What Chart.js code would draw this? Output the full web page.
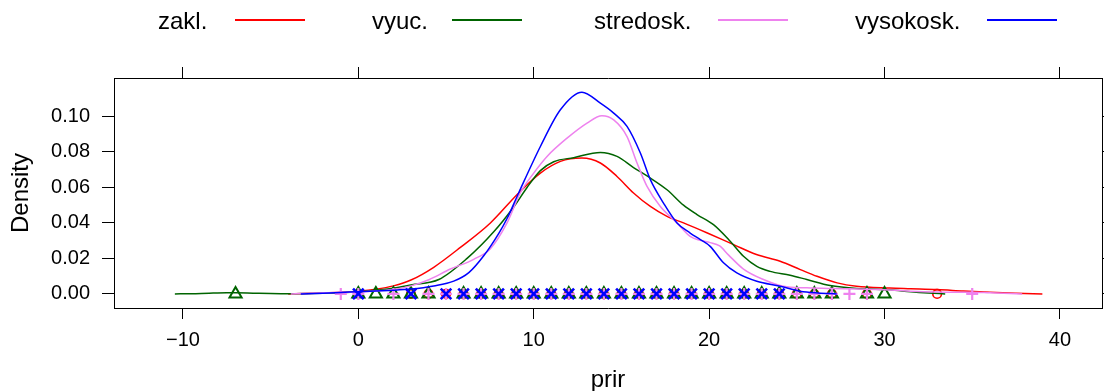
<!DOCTYPE html>
<html>
<head>
<meta charset="utf-8">
<script src="https://cdn.jsdelivr.net/npm/chart.js@4.4.1/dist/chart.umd.min.js"></script>
<style>
  html, body { margin: 0; padding: 0; background: #fff; overflow: hidden; }
  #wrap { position: relative; width: 1104px; height: 391px; overflow: hidden; }
  #chart { position: absolute; left: 0; top: 0; }
  .key { position: absolute; top: 7px; font: 24px "Liberation Sans", Arial, sans-serif; color: #000; line-height: 28px; white-space: nowrap; }
  .swatch { position: absolute; top: 19px; width: 70px; height: 2px; }
</style>
</head>
<body>
<div id="wrap">
  <canvas id="chart" width="1116" height="395"></canvas>
  <div class="key" style="left:158px">zakl.</div>
  <div class="swatch" style="left:235px;background:#ff0000"></div>
  <div class="key" style="left:372px">vyuc.</div>
  <div class="swatch" style="left:452px;background:#006400"></div>
  <div class="key" style="left:594px">stredosk.</div>
  <div class="swatch" style="left:718px;background:#ee82ee"></div>
  <div class="key" style="left:855px">vysokosk.</div>
  <div class="swatch" style="left:987px;background:#0000ff"></div>
</div>
<script>
"use strict";

// tick labels
const xTicks = [-10, 0, 10, 20, 30, 40];
const yTicks = [0, 0.02, 0.04, 0.06, 0.08, 0.10];

// density curves
const zaklX = [-4, -3, -2, -1, 0, 1, 2, 3, 4.3, 5.82, 7.53, 9.14, 10.38, 11.52, 12.75, 13.8, 14.75, 15.69, 16.65, 17.6, 18.54, 19.9, 21.4, 22.7, 24.05, 25.2, 26.15, 27.3, 28.4, 30.3, 31.5, 33, 34.5, 36, 37.5, 39];
const zaklY = [0, 0.0002, 0.0005, 0.0009, 0.0015, 0.0026, 0.0045, 0.0078, 0.0150, 0.0262, 0.0400, 0.0569, 0.0681, 0.0747, 0.0766, 0.0738, 0.0662, 0.0569, 0.0493, 0.0437, 0.0400, 0.0343, 0.0278, 0.0222, 0.0184, 0.0137, 0.0099, 0.0062, 0.0043, 0.0033, 0.0029, 0.0024, 0.0016, 0.0009, 0.0004, 0];

const vyucX = [-10.46, -9.5, -8.5, -7.5, -7, -6, -5, -4, -3, -2, -1, 0, 1, 2, 3, 4.59, 6.2, 7.72, 8.86, 9.62, 10.38, 11.14, 12.28, 13.8, 14.75, 15.69, 16.65, 17.6, 18.54, 19.31, 20.25, 21.2, 21.96, 22.72, 23.48, 24.62, 25.57, 26.9, 28.42, 29.5, 30.32, 31.5, 32.5, 33.46];
const vyucY = [0, 0.0001, 0.0004, 0.0006, 0.0006, 0.0004, 0.0002, 0.0001, 0.0002, 0.0004, 0.0007, 0.0012, 0.0020, 0.0032, 0.0050, 0.0081, 0.0200, 0.0350, 0.0490, 0.0600, 0.0695, 0.0745, 0.0768, 0.0797, 0.0775, 0.0712, 0.0653, 0.0587, 0.0500, 0.0447, 0.0390, 0.0297, 0.0212, 0.0155, 0.0127, 0.0105, 0.0081, 0.0047, 0.0030, 0.0026, 0.0023, 0.0012, 0.0005, 0];

const stredoskX = [-3.85, -3, -2, -1, 0, 1, 2, 3, 4.02, 5.25, 6.58, 7.53, 8.48, 9.24, 10.0, 10.76, 11.9, 13.04, 13.89, 14.56, 15.32, 15.89, 16.46, 17.22, 18.17, 18.92, 19.49, 20.06, 20.6, 21.1, 21.96, 23.1, 24.24, 25.57, 27, 28.42, 30.32, 31.5, 33, 34, 35, 36, 37.85];
const stredoskY = [0, 0.0003, 0.0007, 0.0009, 0.0011, 0.0016, 0.0025, 0.0045, 0.0080, 0.0140, 0.0195, 0.0255, 0.0400, 0.0570, 0.0681, 0.0775, 0.0878, 0.0963, 0.1004, 0.0981, 0.0887, 0.0738, 0.0606, 0.0493, 0.0400, 0.0324, 0.0302, 0.0289, 0.0270, 0.0220, 0.0140, 0.0081, 0.0043, 0.0034, 0.0030, 0.0028, 0.0022, 0.0015, 0.0010, 0.0009, 0.0009, 0.0006, 0];

const vysokoskX = [-3.28, -2, -1, 0, 1, 2, 3, 4.3, 5.44, 6.3, 7.15, 8.0, 8.48, 9.14, 10.38, 11.52, 12.75, 13.8, 14.56, 15.32, 16.08, 16.65, 17.4, 18.17, 18.92, 19.5, 20.06, 20.82, 21.58, 22.72, 24.05, 25.19, 26.2, 27.28];
const vysokoskY = [0, 0.0004, 0.0008, 0.0012, 0.0016, 0.0020, 0.0027, 0.0045, 0.0072, 0.0120, 0.0215, 0.0340, 0.0425, 0.0569, 0.0831, 0.1038, 0.1137, 0.1075, 0.1019, 0.0944, 0.0794, 0.0644, 0.0512, 0.0400, 0.0343, 0.0306, 0.0268, 0.0175, 0.0118, 0.0071, 0.0043, 0.0015, 0.0005, 0];

// observed values (plotted along y = 0)
const zaklObs = [3, 4, 5, 6, 7, 8, 9, 10, 11, 12, 13, 14, 15, 16, 17, 18, 19, 20, 21, 22, 23, 24, 25, 26, 27, 29, 33];
const vyucObs = [-7, 0, 1, 2, 3, 4, 6, 7, 8, 9, 10, 11, 12, 13, 14, 15, 16, 17, 18, 19, 20, 21, 22, 23, 24, 25, 26, 27, 29, 30];
const stredoskObs = [-1, 0, 2, 4, 5, 6, 7, 8, 9, 10, 11, 12, 13, 14, 15, 16, 17, 18, 19, 20, 21, 22, 23, 24, 25, 26, 27, 28, 29, 35];
const vysokoskObs = [0, 3, 5, 6, 7, 8, 9, 10, 11, 12, 13, 14, 15, 16, 17, 18, 19, 20, 21, 22, 23, 24];

const FONT = "'Liberation Sans', Arial, sans-serif";

function curve(xs, ys, color, order) {
  return {
    type: "line", order,
    data: xs.map((x, i) => ({ x, y: ys[i] })),
    borderColor: color, borderWidth: 1.5, pointRadius: 0,
    cubicInterpolationMode: "monotone", fill: false,
  };
}
function marks(obs, color, style, radius, width, order) {
  return {
    type: "scatter", order,
    data: obs.map((x) => ({ x, y: 0 })),
    borderColor: color, backgroundColor: "rgba(0,0,0,0)",
    pointStyle: style, pointRadius: radius, pointBorderWidth: width,
  };
}

function fixTicks(values) {
  return (s) => { s.ticks = values.map((v) => ({ value: v })); };
}
const frame = { display: true, color: "#000", width: 1 };
function tickGrid(len) {
  return { drawOnChartArea: false, drawTicks: true, tickLength: len, color: "#000", lineWidth: 1 };
}

new Chart(document.getElementById("chart"), {
  data: {
    datasets: [
      curve(vysokoskX, vysokoskY, "#0000ff", 1),
      marks(vysokoskObs, "#0000ff", "crossRot", 7.5, 2.6, 2),
      curve(stredoskX, stredoskY, "#ee82ee", 3),
      marks(stredoskObs, "#ee82ee", "cross", 6, 2.2, 4),
      curve(vyucX, vyucY, "#006400", 5),
      marks(vyucObs, "#006400", "triangle", 7, 2, 6),
      curve(zaklX, zaklY, "#ff0000", 7),
      marks(zaklObs, "#ff0000", "circle", 4.3, 1.6, 8),
    ],
  },
  options: {
    responsive: false, animation: false, devicePixelRatio: 1,
    layout: { padding: { top: 67, left: 0, right: 0, bottom: 0 } },
    plugins: { legend: { display: false }, tooltip: { enabled: false } },
    scales: {
      x: {
        type: "linear", position: "bottom", min: -13.93, max: 42.4,
        afterBuildTicks: fixTicks(xTicks),
        afterFit: (s) => { s.height = 87; },
        ticks: { color: "#000", font: { family: FONT, size: 20 }, padding: 9,
          callback: (v) => String(v).replace("-", "\u2212") },
        grid: tickGrid(11), border: frame,
        title: { display: true, text: "prir", color: "#000", font: { family: FONT, size: 24 }, padding: 0 },
      },
      x2: {
        type: "linear", position: "top", min: -13.93, max: 42.4,
        afterBuildTicks: fixTicks(xTicks),
        afterFit: (s) => { s.height = 11; },
        ticks: { display: false }, grid: tickGrid(11), border: frame,
      },
      y: {
        type: "linear", position: "left", min: -0.00796, max: 0.1217,
        afterBuildTicks: fixTicks(yTicks),
        afterFit: (s) => { s.width = 114; },
        ticks: { color: "#000", font: { family: FONT, size: 20 }, padding: 12,
          callback: (v) => v.toFixed(2) },
        grid: tickGrid(12), border: frame,
        title: { display: true, text: "Density", color: "#000", font: { family: FONT, size: 24 }, padding: { top: 7, bottom: 0 } },
      },
      y2: {
        type: "linear", position: "right", min: -0.00796, max: 0.1217,
        afterBuildTicks: fixTicks(yTicks),
        afterFit: (s) => { s.width = 14; },
        ticks: { display: false }, grid: tickGrid(11), border: frame,
      },
    },
  },
});
</script>
</body>
</html>
